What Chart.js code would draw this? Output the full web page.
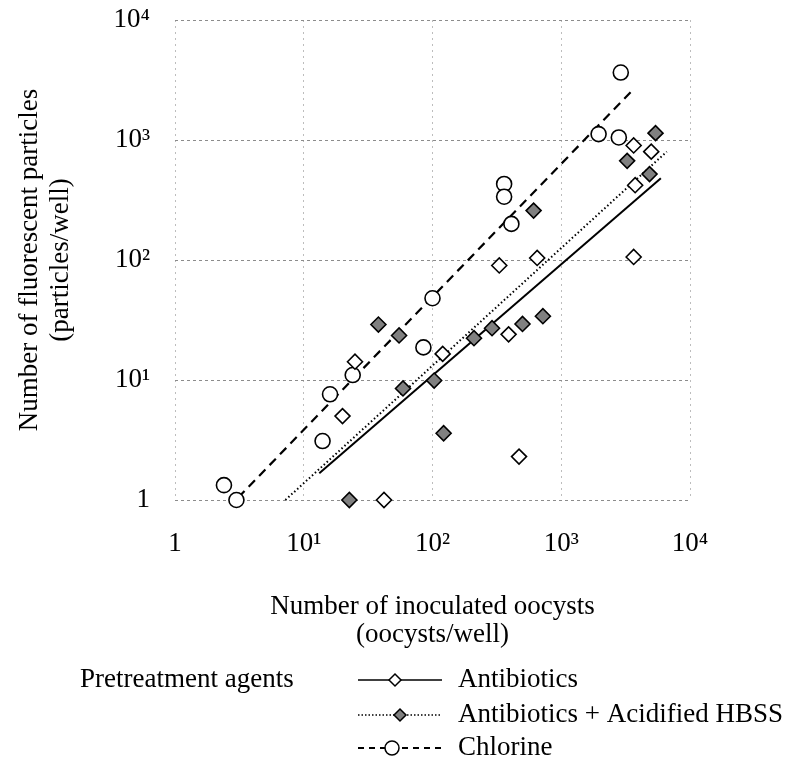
<!DOCTYPE html>
<html>
<head>
<meta charset="utf-8">
<script src="https://cdn.jsdelivr.net/npm/chart.js@4.4.1/dist/chart.umd.min.js"></script>
<style>
  html, body { margin: 0; padding: 0; background: #fff; }
  #wrap { width: 801px; height: 768px; }
</style>
</head>
<body>
<div id="wrap"><canvas id="chart" width="801" height="768"></canvas></div>
<script>
// decade ticks, both axes
const tickValues = [1, 10, 100, 1000, 10000];
const tickLabels = ['1', '10¹', '10²', '10³', '10⁴'];

// Antibiotics (open diamonds)
const antibioticsX = [42, 20, 25, 120, 390, 470, 330, 650, 3650, 3750, 3650, 5000];
const antibioticsY = [1.0, 5.0, 14.2, 16.5, 24, 2.3, 90, 104, 106, 420, 900, 800];

// Antibiotics + Acidified HBSS (grey diamonds)
const acidX = [22.6, 38, 55, 59, 103, 122, 210, 290, 500, 720, 610, 3250, 4850, 5400];
const acidY = [1.0, 29, 23.5, 8.5, 9.9, 3.6, 22.3, 27, 29.3, 34, 258, 670, 520, 1140];

// Chlorine (open circles)
const chlorineX = [2.4, 3.0, 14, 16, 24, 85, 100, 360, 360, 410, 1950, 2800, 2900];
const chlorineY = [1.33, 1.0, 3.1, 7.6, 11, 18.7, 48, 430, 337, 200, 1120, 1050, 3650];

// fitted lines, end points
const fitAntibioticsX = [13.2, 5940];
const fitAntibioticsY = [1.67, 480];
const fitAcidX = [7.2, 6600];
const fitAcidY = [1.0, 800];
const fitChlorineX = [3.1, 3640];
const fitChlorineY = [1.05, 2650];

const FONT = "'Liberation Serif', 'Times New Roman', serif";

const pts = (xs, ys) => xs.map((x, i) => ({ x, y: ys[i] }));

const legendPlugin = {
  id: 'bottomLegend',
  afterDraw(chart) {
    const ctx = chart.ctx;
    ctx.save();
    ctx.font = '27px ' + FONT;
    ctx.fillStyle = '#000';
    ctx.textBaseline = 'middle';
    ctx.textAlign = 'left';
    ctx.fillText('Pretreatment agents', 80, 680);

    const rows = [
      { ds: chart.data.datasets[3], mark: 395, y: 680, dash: [], w: 1.5, r: 6 },
      { ds: chart.data.datasets[4], mark: 400, y: 715, dash: [1.5, 2], w: 1.5, r: 6 },
      { ds: chart.data.datasets[5], mark: 392, y: 748, dash: [6, 5], w: 1.8, r: 7 }
    ];
    rows.forEach(row => {
      ctx.save();
      ctx.strokeStyle = '#000';
      ctx.lineWidth = row.w;
      ctx.setLineDash(row.dash);
      ctx.beginPath();
      ctx.moveTo(358, row.y);
      ctx.lineTo(442, row.y);
      ctx.stroke();
      ctx.restore();

      ctx.save();
      ctx.fillStyle = row.ds.backgroundColor;
      ctx.strokeStyle = '#000';
      ctx.lineWidth = 1.5;
      Chart.helpers.drawPoint(ctx, {
        pointStyle: row.ds.pointStyle, radius: row.r, borderWidth: 1.5, rotation: 0
      }, row.mark, row.y);
      ctx.restore();

      ctx.fillStyle = '#000';
      ctx.fillText(row.ds.label, 458, row.y);
    });
    ctx.restore();
  }
};

const fitLine = (xs, ys, dash, width) => ({
  type: 'line',
  label: '',
  data: pts(xs, ys),
  borderColor: '#000',
  borderWidth: width,
  borderDash: dash,
  pointRadius: 0,
  fill: false,
  clip: false,
  order: 2
});

const marker = (label, xs, ys, style, fill) => ({
  type: 'scatter',
  label,
  data: pts(xs, ys),
  pointStyle: style,
  pointRadius: 7.5,
  pointHoverRadius: 7.5,
  backgroundColor: fill,
  borderColor: '#000',
  pointBorderWidth: 1.6,
  clip: false,
  order: 1
});

const setTicks = scale => { scale.ticks = tickValues.map(v => ({ value: v })); };

new Chart(document.getElementById('chart'), {
  data: {
    datasets: [
      fitLine(fitAntibioticsX, fitAntibioticsY, [], 2),
      fitLine(fitAcidX, fitAcidY, [1.5, 2.5], 2),
      fitLine(fitChlorineX, fitChlorineY, [9, 6], 2.2),
      marker('Antibiotics', antibioticsX, antibioticsY, 'rectRot', '#ffffff'),
      marker('Antibiotics + Acidified HBSS', acidX, acidY, 'rectRot', '#808080'),
      marker('Chlorine', chlorineX, chlorineY, 'circle', '#ffffff')
    ]
  },
  options: {
    responsive: false,
    animation: false,
    layout: { padding: { top: 20, right: 111, bottom: 118, left: 0 } },
    plugins: { legend: { display: false }, tooltip: { enabled: false } },
    scales: {
      x: {
        type: 'logarithmic',
        position: 'bottom',
        min: 1,
        max: 10000,
        afterBuildTicks: setTicks,
        afterFit: s => {
          s.height = 150;
          s.paddingLeft = 0;
          s.paddingRight = 0;
        },
        border: { display: false, dash: [2, 4] },
        grid: { color: '#bdbdbd', drawTicks: false, lineWidth: 1 },
        ticks: {
          padding: 28,
          color: '#000',
          font: { family: FONT, size: 27 },
          maxRotation: 0,
          callback: (v, i) => tickLabels[i]
        },
        title: {
          display: true,
          text: ['Number of inoculated oocysts', '(oocysts/well)'],
          color: '#000',
          font: { family: FONT, size: 27, lineHeight: 1.05 },
          padding: { top: 0, bottom: 1 }
        }
      },
      y: {
        type: 'logarithmic',
        position: 'left',
        min: 1,
        max: 10000,
        afterBuildTicks: setTicks,
        afterFit: s => {
          s.width = 175;
          s.paddingTop = 0;
          s.paddingBottom = 0;
        },
        border: { display: false, dash: [3, 3] },
        grid: { color: '#8c8c8c', drawTicks: false, lineWidth: 1 },
        ticks: {
          padding: 25,
          color: '#000',
          font: { family: FONT, size: 27 },
          callback: (v, i) => tickLabels[i]
        },
        title: {
          display: true,
          text: ['Number of fluorescent particles', '(particles/well)'],
          color: '#000',
          font: { family: FONT, size: 27, lineHeight: 1.15 },
          padding: { top: 14, bottom: 0 }
        }
      }
    }
  },
  plugins: [legendPlugin]
});
</script>
</body>
</html>
